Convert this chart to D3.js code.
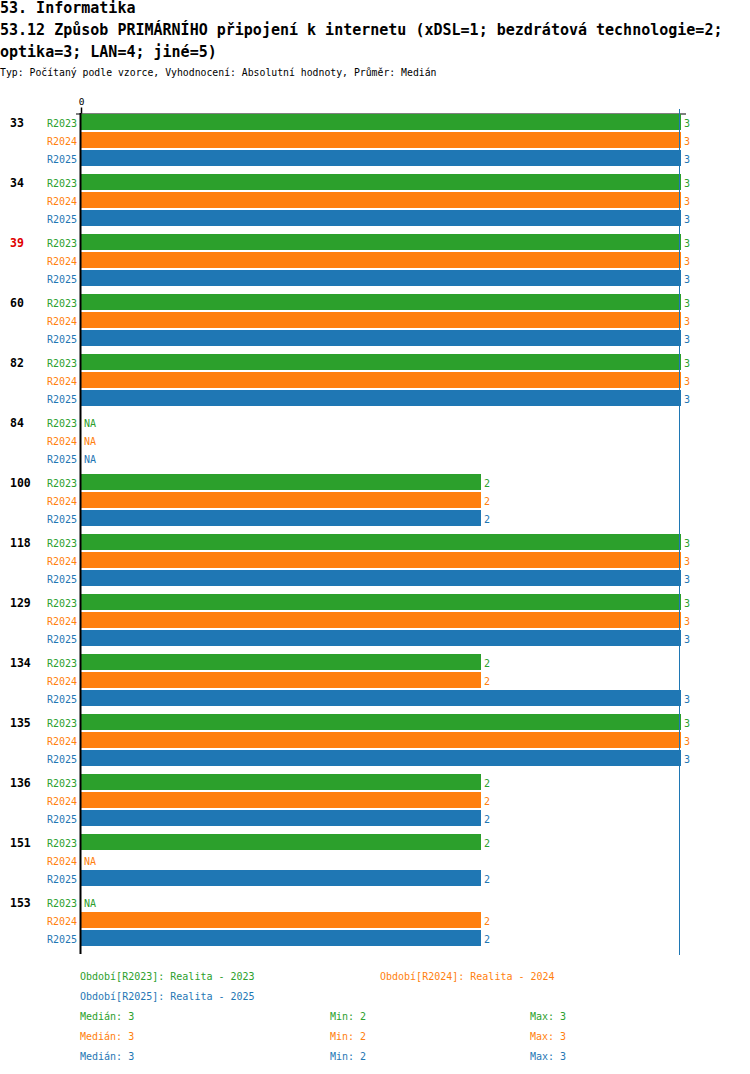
<!DOCTYPE html>
<html>
<head>
<meta charset="utf-8">
<script src="https://cdn.jsdelivr.net/npm/d3@7"></script>
<style>
  body { margin: 0; background: #fff; }
  text { font-family: "DejaVu Sans Mono", monospace; }
</style>
</head>
<body>
<svg id="chart" width="750" height="1074"></svg>
<script>
// chart data
const titleLines = [
  "53. Informatika",
  "53.12 Způsob PRIMÁRNÍHO připojení k internetu (xDSL=1; bezdrátová technologie=2;",
  "optika=3; LAN=4; jiné=5)"
];
const subtitle = "Typ: Počítaný podle vzorce, Vyhodnocení: Absolutní hodnoty, Průměr: Medián";

const groups = ["33", "34", "39", "60", "82", "84", "100", "118", "129", "134", "135", "136", "151", "153"];
const highlighted = ["39"];
const periods = ["R2023", "R2024", "R2025"];
const periodNames = ["Realita - 2023", "Realita - 2024", "Realita - 2025"];
const colors = ["#2ca02c", "#ff7f0e", "#1f77b4"];

// values per period, null = NA
const valsR2023 = [3, 3, 3, 3, 3, null, 2, 3, 3, 2, 3, 2, 2, null];
const valsR2024 = [3, 3, 3, 3, 3, null, 2, 3, 3, 2, 3, 2, null, 2];
const valsR2025 = [3, 3, 3, 3, 3, null, 2, 3, 3, 3, 3, 2, 2, 2];
const series = [valsR2023, valsR2024, valsR2025];

const stats = [
  { median: 3, min: 2, max: 3 },
  { median: 3, min: 2, max: 3 },
  { median: 3, min: 2, max: 3 }
];

const svg = d3.select("#chart");

// titles
titleLines.forEach((t, i) => {
  svg.append("text")
    .attr("x", 0).attr("y", 13 + i * 22)
    .attr("font-size", 15).attr("font-weight", "bold")
    .attr("fill", "#000")
    .text(t);
});
svg.append("text")
  .attr("x", 0).attr("y", 76)
  .attr("font-size", 9.8)
  .text(subtitle);

// scales
const x = d3.scaleLinear().domain([0, 3]).range([81, 681]);
const yGroup = d3.scaleBand().domain(groups).range([114, 954]);
const yPeriod = d3.scaleBand().domain(periods).range([0, 52]).paddingInner(1 / 9);

// top axis
const axis = svg.append("g")
  .attr("transform", "translate(0,113.5)")
  .call(d3.axisTop(x).tickValues([0]).tickFormat(d3.format("d")).tickSize(6).tickSizeOuter(0));
axis.select(".domain").attr("d", "M76,0.5H686").attr("stroke", "#000");
axis.selectAll(".tick line").attr("stroke", "#000").attr("stroke-width", 1.5);
axis.selectAll(".tick text").attr("font-family", "DejaVu Sans Mono, monospace").attr("font-size", 9.5).attr("dy", "0.1em");

// bars
const rows = [];
groups.forEach((g, gi) => {
  periods.forEach((p, pi) => {
    rows.push({ group: g, period: p, pi: pi, value: series[pi][gi] });
  });
});

const rowG = svg.append("g").selectAll("g")
  .data(rows)
  .enter()
  .append("g")
  .attr("transform", d => `translate(0,${yGroup(d.group) + yPeriod(d.period)})`);

rowG.filter(d => d.value != null)
  .append("rect")
  .attr("x", x(0))
  .attr("y", 0)
  .attr("width", d => x(d.value) - x(0))
  .attr("height", yPeriod.bandwidth())
  .attr("fill", d => colors[d.pi]);

rowG.append("text")
  .attr("x", d => d.value != null ? x(d.value) + 3 : x(0) + 3)
  .attr("y", yPeriod.bandwidth() / 2 + 1)
  .attr("dy", "0.35em")
  .attr("font-size", 10)
  .attr("fill", d => colors[d.pi])
  .text(d => d.value != null ? d.value : "NA");

rowG.append("text")
  .attr("x", 77)
  .attr("y", yPeriod.bandwidth() / 2 + 1)
  .attr("dy", "0.35em")
  .attr("text-anchor", "end")
  .attr("font-size", 10)
  .attr("fill", d => colors[d.pi])
  .text(d => d.period);

// group labels
svg.append("g").selectAll("text")
  .data(groups)
  .enter()
  .append("text")
  .attr("x", 10)
  .attr("y", d => yGroup(d) + yPeriod("R2023") + yPeriod.bandwidth() / 2 + 1)
  .attr("dy", "0.35em")
  .attr("font-size", 11.5)
  .attr("font-weight", "bold")
  .attr("fill", d => highlighted.includes(d) ? "#e00000" : "#000")
  .text(d => d);

// median line
svg.append("line")
  .attr("x1", x(stats[2].median) - 1.5).attr("x2", x(stats[2].median) - 1.5)
  .attr("y1", 109).attr("y2", 955)
  .attr("stroke", colors[2]).attr("stroke-width", 1);

// vertical zero axis
svg.append("line")
  .attr("x1", x(0) - 0.5).attr("x2", x(0) - 0.5)
  .attr("y1", 113).attr("y2", 954)
  .attr("stroke", "#000").attr("stroke-width", 2);

// legend
const legendPos = [[80, 976], [380, 976], [80, 996]];
periods.forEach((p, i) => {
  svg.append("text")
    .attr("x", legendPos[i][0]).attr("y", legendPos[i][1])
    .attr("dy", "0.35em")
    .attr("font-size", 10)
    .attr("fill", colors[i])
    .text(`Období[${p}]: ${periodNames[i]}`);
});

stats.forEach((s, i) => {
  const yy = 1016 + i * 20;
  [["Medián: ", s.median, 80], ["Min: ", s.min, 330], ["Max: ", s.max, 530]].forEach(([lab, v, xx]) => {
    svg.append("text")
      .attr("x", xx).attr("y", yy)
      .attr("dy", "0.35em")
      .attr("font-size", 10)
      .attr("fill", colors[i])
      .text(lab + v);
  });
});
</script>
</body>
</html>
